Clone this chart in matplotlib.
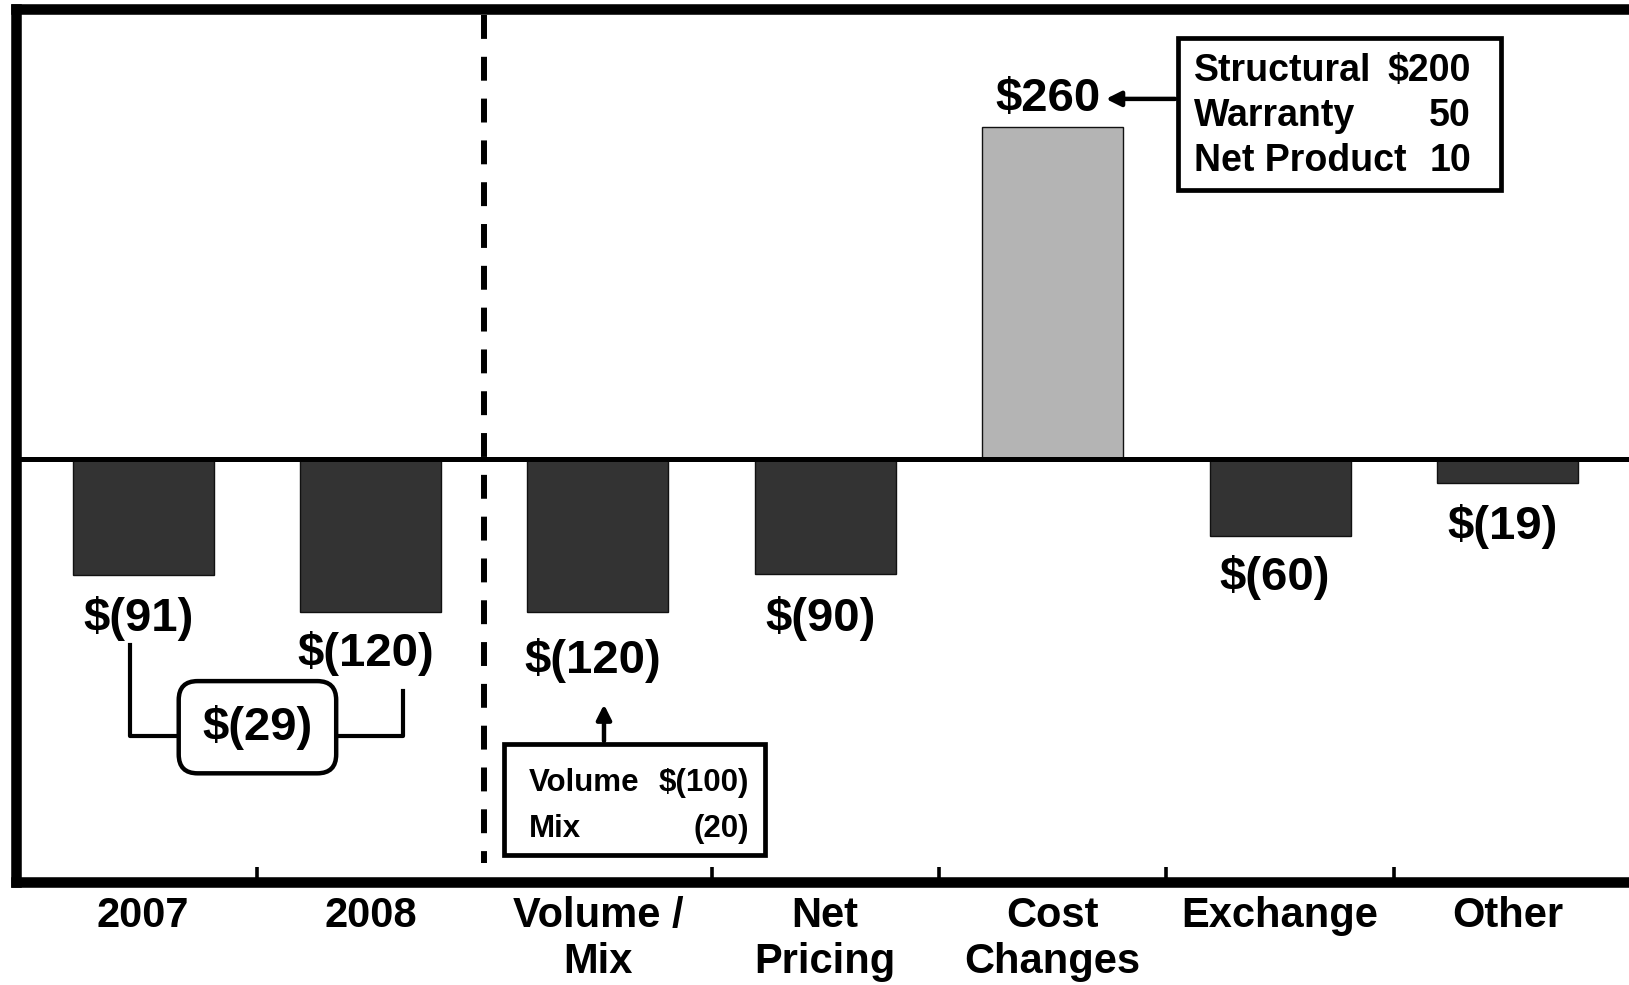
import matplotlib.pyplot as plt
from matplotlib.patches import Rectangle

categories = ['2007', '2008', 'Volume /\nMix', 'Net\nPricing', 'Cost\nChanges', 'Exchange', 'Other']
values = [-91, -120, -120, -90, 260, -60, -19]
value_labels = ['$(91)', '$(120)', '$(120)', '$(90)', '$260', '$(60)', '$(19)']
bar_colors = ['#333333', '#333333', '#333333', '#333333', '#b4b4b4', '#333333', '#333333']

cost_items = ['Structural', 'Warranty', 'Net Product']
cost_amounts = ['$200', '50', '10']
volmix_items = ['Volume', 'Mix']
volmix_amounts = ['$(100)', '(20)']
change_label = '$(29)'

# label offsets (points) from bar ends
label_dy = [-31, -29.5, -35, -32, 20, -30, -31]

BOLD = ['Liberation Sans', 'DejaVu Sans']

fig = plt.figure(figsize=(16.29, 9.85), dpi=100)
ax = fig.add_axes([0.00952, 0.10457, 1.0095, 0.8863])

x = list(range(len(categories)))
ax.bar(x, values, width=0.62, color=bar_colors, edgecolor='#111111', linewidth=1.0, zorder=2)
ax.axhline(0, color='black', lw=3.6, zorder=3)

for i, (v, lab) in enumerate(zip(values, value_labels)):
    ax.annotate(lab, xy=(i, v), xytext=(-3.5, label_dy[i]), textcoords='offset points',
                ha='center', va='center', fontsize=34, fontweight='bold', family=BOLD)

# separator between history and walk
ax.plot([1.5, 1.5], [348, -316], color='black', lw=4.3, dashes=(4, 3), zorder=3)

# bracket showing change 2007 -> 2008
ax.plot([-0.057, -0.057, 1.143, 1.143], [-146, -217, -217, -182], color='black', lw=3, zorder=3)
ax.text(0.503, -210, change_label, ha='center', va='center', fontsize=34, fontweight='bold',
        family=BOLD, zorder=4,
        bbox=dict(boxstyle='round,pad=0.5,rounding_size=0.4', fc='white', ec='black', lw=3.2))

# volume / mix breakdown box
ax.add_patch(Rectangle((1.587, -310), 1.148, 87, fc='white', ec='black', lw=3.4, zorder=3))
for k, (item, amt) in enumerate(zip(volmix_items, volmix_amounts)):
    yy = -254 - 36 * k
    ax.text(1.697, yy, item, ha='left', va='center', fontsize=22.5, fontweight='bold', family=BOLD, zorder=4)
    ax.text(2.665, yy, amt, ha='right', va='center', fontsize=22.5, fontweight='bold', family=BOLD, zorder=4)
ax.annotate('', xy=(2.027, -190), xytext=(2.027, -223),
            arrowprops=dict(arrowstyle='-|>', lw=3.2, color='black', mutation_scale=22), zorder=4)

# cost changes breakdown box
ax.add_patch(Rectangle((4.551, 211), 1.421, 119, fc='white', ec='black', lw=3.4, zorder=3))
for k, (item, amt) in enumerate(zip(cost_items, cost_amounts)):
    yy = 304 - 35.5 * k
    ax.text(4.622, yy, item, ha='left', va='center', fontsize=27, fontweight='bold', family=BOLD, zorder=4)
    ax.text(5.84, yy, amt, ha='right', va='center', fontsize=27, fontweight='bold', family=BOLD, zorder=4)
ax.annotate('', xy=(4.222, 282), xytext=(4.551, 282),
            arrowprops=dict(arrowstyle='-|>', lw=3.2, color='black', mutation_scale=22), zorder=4)

ax.set_xlim(-0.561, 6.671)
ax.set_ylim(-331.2, 352.4)

for s in ax.spines.values():
    s.set_linewidth(7.6)
    s.set_color('black')

ax.set_yticks([])
ax.set_xticks(x)
ax.set_xticklabels(categories, fontsize=30, fontweight='bold', family=BOLD, linespacing=1.2)
ax.tick_params(axis='x', which='major', length=0, pad=10)
ax.set_xticks([0.5, 2.5, 3.5, 4.5, 5.5], minor=True)
ax.tick_params(axis='x', which='minor', direction='in', length=10.8, width=2.6, color='black')

fig.savefig('out.png', dpi=100)
